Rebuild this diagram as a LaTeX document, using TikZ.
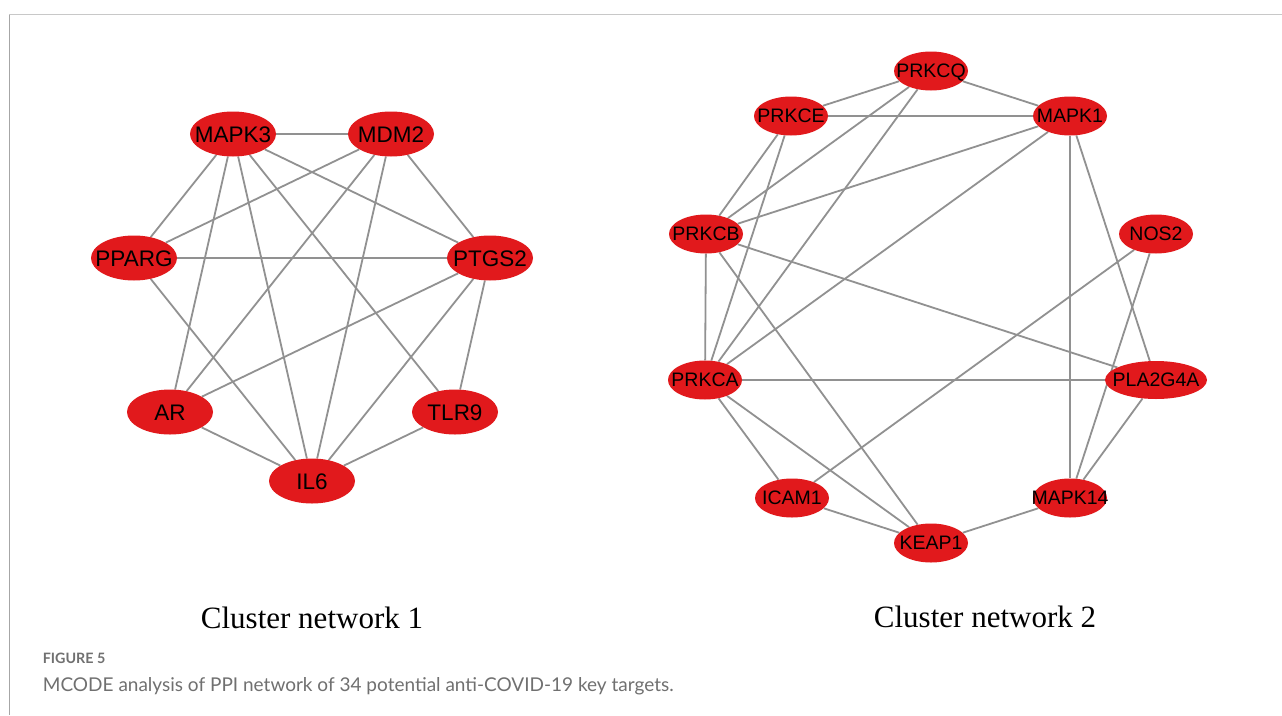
\documentclass[tikz,border=0pt]{standalone}
\usepackage{fontspec}
\setmainfont{Liberation Sans}
\newfontfamily\titlefont{Liberation Serif}
\newfontfamily\capfont{Lato}
\usetikzlibrary{shapes.geometric,backgrounds}
\definecolor{nodered}{RGB}{225,25,28}
\definecolor{edgegray}{RGB}{145,145,145}
\definecolor{capgray}{RGB}{112,112,112}
\definecolor{framegray}{RGB}{200,200,200}
\newcommand{\lbl}[1]{\makebox[0pt][c]{#1}}
\begin{document}
\begin{tikzpicture}[x=1pt,y=-1pt,
  gene/.style={ellipse, fill=nodered, draw=none, inner sep=0pt, text=black,
    text depth=0pt},
  bignode/.style={gene, minimum width=86pt, minimum height=45pt,
    text height=16.1pt, font=\fontsize{22.5}{22.5}\selectfont},
  smallnode/.style={gene, minimum width=74pt, minimum height=39pt,
    text height=13.9pt, font=\fontsize{19.5}{19.5}\selectfont},
  widenode/.style={smallnode, minimum width=102pt, minimum height=38pt},
  link/.style={draw=edgegray, line width=1.8pt},
  clustertitle/.style={anchor=base, inner sep=0pt,
    font=\titlefont\fontsize{31}{31}\selectfont},
]
\useasboundingbox (0,0) rectangle (1282,715);

% ---------- Cluster 1 ----------
\node[bignode] (MAPK3) at (233,134) {\lbl{MAPK3}};
\node[bignode] (MDM2)  at (391,134) {\lbl{MDM2}};
\node[bignode] (PPARG) at (134,258) {\lbl{PPARG}};
\node[bignode] (PTGS2) at (490,258) {\lbl{PTGS2}};
\node[bignode] (AR)    at (170,412) {\lbl{AR}};
\node[bignode] (TLR9)  at (455,412) {\lbl{TLR9}};
\node[bignode] (IL6)   at (312,481) {\lbl{IL6}};

% ---------- Cluster 2 ----------
\node[smallnode] (PRKCQ)  at (931,71)  {\lbl{PRKCQ}};
\node[smallnode] (PRKCE)  at (791,116) {\lbl{PRKCE}};
\node[smallnode] (MAPK1)  at (1070,116) {\lbl{MAPK1}};
\node[smallnode] (PRKCB)  at (706,234) {\lbl{PRKCB}};
\node[smallnode] (NOS2)   at (1156,234) {\lbl{NOS2}};
\node[smallnode] (PRKCA)  at (705,380) {\lbl{PRKCA}};
\node[widenode]  (PLA2G4A) at (1156,380) {\lbl{PLA2G4A}};
\node[smallnode] (ICAM1)  at (792,498) {\lbl{ICAM1}};
\node[smallnode] (MAPK14) at (1070,498) {\lbl{MAPK14}};
\node[smallnode] (KEAP1)  at (931,543) {\lbl{KEAP1}};

\begin{scope}[on background layer]
\fill[white] (0,0) rectangle (1282,715);
\draw[framegray, line width=1.6pt] (9.3,14.5) -- (1282,14.5);
\draw[black!35, line width=0.9pt] (9.3,14.5) -- (9.3,715);
% cluster 1 edges
\foreach \a/\b in {MAPK3/MDM2, MAPK3/PPARG, MAPK3/AR, MAPK3/IL6, MAPK3/TLR9, MAPK3/PTGS2,
  MDM2/PPARG, MDM2/AR, MDM2/IL6, MDM2/PTGS2,
  PPARG/PTGS2, PPARG/IL6,
  PTGS2/AR, PTGS2/IL6, PTGS2/TLR9,
  AR/IL6, TLR9/IL6}
  \draw[link] (\a) -- (\b);
% cluster 2 edges
\foreach \a/\b in {PRKCQ/PRKCE, PRKCQ/MAPK1, PRKCQ/PRKCB, PRKCQ/PRKCA,
  PRKCE/MAPK1, PRKCE/PRKCB, PRKCE/PRKCA,
  MAPK1/PRKCB, MAPK1/PRKCA, MAPK1/MAPK14, MAPK1/PLA2G4A,
  PRKCB/PRKCA, PRKCB/PLA2G4A, PRKCB/KEAP1,
  PRKCA/PLA2G4A, PRKCA/ICAM1, PRKCA/KEAP1,
  ICAM1/KEAP1, ICAM1/NOS2, NOS2/MAPK14, PLA2G4A/MAPK14, KEAP1/MAPK14}
  \draw[link] (\a) -- (\b);
\end{scope}

% titles
\node[clustertitle] (t1) at (312,628) {Cluster network 1};
\node[clustertitle] (t2) at (985,627) {Cluster network 2};

% caption
\node[anchor=base west, inner sep=0pt, text=capgray,
  font=\capfont\bfseries\fontsize{14.3}{14.3}\selectfont] (fig) at (42.7,663) {FIGURE 5};
\node[anchor=base west, inner sep=0pt, text=capgray,
  font=\capfont\fontsize{19}{19}\selectfont] (cap) at (42.7,691)
  {MCODE analysis of PPI network of 34 potential anti-COVID-19 key targets.};
\end{tikzpicture}
\end{document}
